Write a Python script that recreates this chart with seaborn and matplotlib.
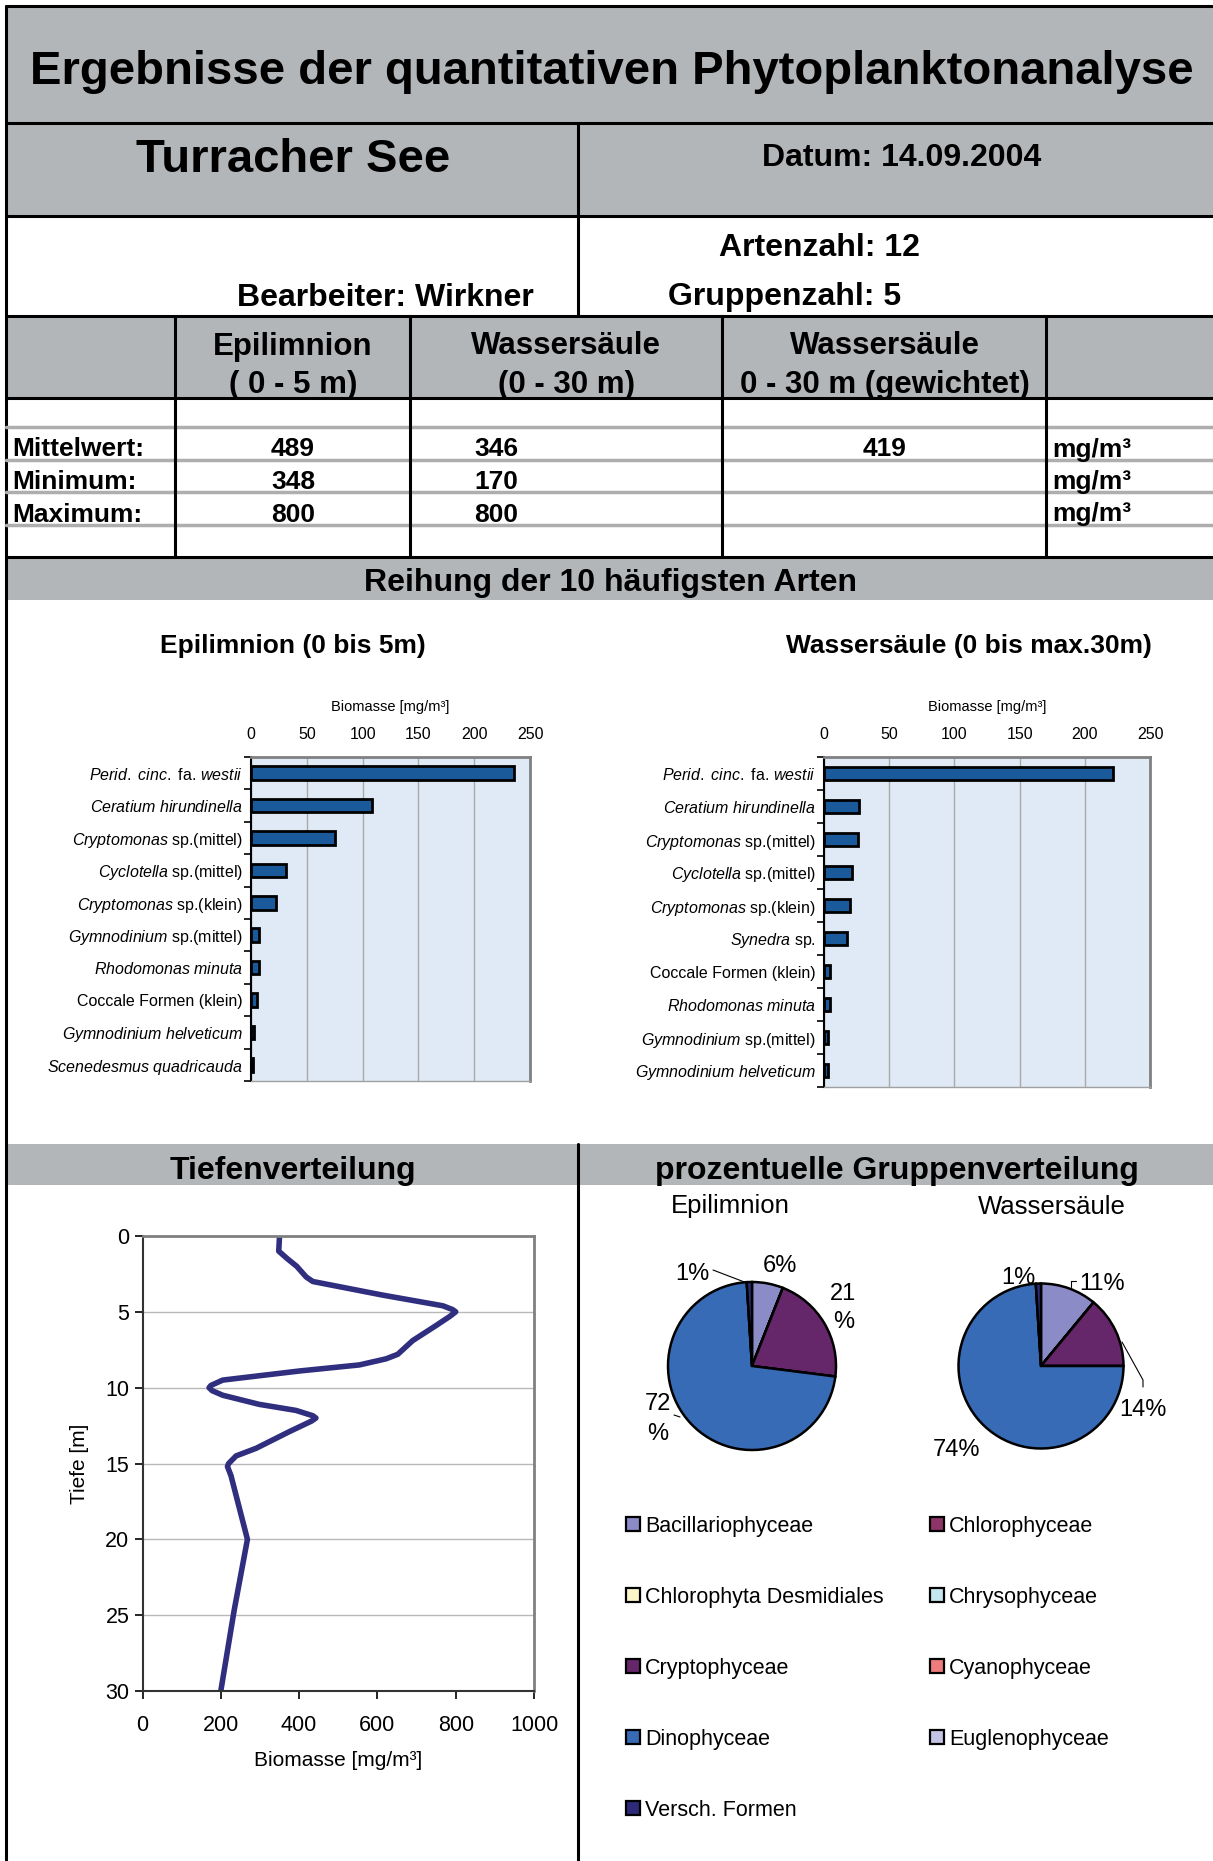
import numpy as np
import seaborn as sns
import matplotlib.pyplot as plt
from matplotlib.patches import Rectangle

W, H = 1213, 1861

# Kopfdaten
titel = "Ergebnisse der quantitativen Phytoplanktonanalyse"
see = "Turracher See"
datum = "Datum: 14.09.2004"
bearbeiter = "Bearbeiter: Wirkner"
artenzahl = "Artenzahl: 12"
gruppenzahl = "Gruppenzahl: 5"

# Tabelle Biomasse
spalten = ["Epilimnion\n( 0 - 5 m)", "Wassersäule\n(0 - 30 m)", "Wassersäule\n0 - 30 m (gewichtet)"]
zeilen = ["Mittelwert:", "Minimum:", "Maximum:"]
epi_werte = ["489", "348", "800"]
ws_werte = ["346", "170", "800"]
ws_gew_werte = ["419", "", ""]

# Reihung der 10 häufigsten Arten
epi_arten = [
    r"$\mathit{Perid.}$ $\mathit{cinc.}$ fa. $\mathit{westii}$",
    r"$\mathit{Ceratium}$ $\mathit{hirundinella}$",
    r"$\mathit{Cryptomonas}$ sp.(mittel)",
    r"$\mathit{Cyclotella}$ sp.(mittel)",
    r"$\mathit{Cryptomonas}$ sp.(klein)",
    r"$\mathit{Gymnodinium}$ sp.(mittel)",
    r"$\mathit{Rhodomonas}$ $\mathit{minuta}$",
    "Coccale Formen (klein)",
    r"$\mathit{Gymnodinium}$ $\mathit{helveticum}$",
    r"$\mathit{Scenedesmus}$ $\mathit{quadricauda}$",
]
epi_biomasse = [236, 108, 75, 31, 22, 7.5, 7, 5.5, 2.5, 2]

ws_arten = [
    r"$\mathit{Perid.}$ $\mathit{cinc.}$ fa. $\mathit{westii}$",
    r"$\mathit{Ceratium}$ $\mathit{hirundinella}$",
    r"$\mathit{Cryptomonas}$ sp.(mittel)",
    r"$\mathit{Cyclotella}$ sp.(mittel)",
    r"$\mathit{Cryptomonas}$ sp.(klein)",
    r"$\mathit{Synedra}$ sp.",
    "Coccale Formen (klein)",
    r"$\mathit{Rhodomonas}$ $\mathit{minuta}$",
    r"$\mathit{Gymnodinium}$ sp.(mittel)",
    r"$\mathit{Gymnodinium}$ $\mathit{helveticum}$",
]
ws_biomasse = [222, 27, 26.2, 21.5, 20, 17.7, 4.9, 4.6, 2.7, 3]

# Tiefenverteilung
tiefe = [0, 1, 1.5, 2, 2.7, 3, 3.9, 4.6, 4.85, 5, 5.3, 5.9, 6.9, 7.8, 8.1, 8.5, 8.9, 9.5, 9.85, 10,
         10.2, 10.5, 11.1, 11.5, 11.85, 12.0, 12.2, 12.9, 14.0, 14.5, 15.0, 15.2, 15.8, 20, 24.7, 30]
biomasse = [350, 348, 370, 394, 418, 435, 614, 767, 792, 800, 785, 750, 690, 652, 622, 554, 401, 205, 175, 170,
            178, 205, 298, 392, 435, 443, 432, 375, 290, 239, 220, 217, 226, 268, 234, 200]

# prozentuelle Gruppenverteilung
gruppen = ["Bacillariophyceae", "Chlorophyceae", "Chlorophyta Desmidiales", "Chrysophyceae",
           "Cryptophyceae", "Cyanophyceae", "Dinophyceae", "Euglenophyceae", "Versch. Formen"]
gruppen_farben = ["#8b8bc7", "#8f3468", "#fbf7c8", "#c4e8ee", "#66266a",
                  "#ef7c7c", "#386bb5", "#c3c3e3", "#2d2b78"]
epi_anteil = [6, 0, 0, 0, 21, 0, 72, 0, 1]
ws_anteil = [11, 0, 0, 0, 14, 0, 74, 0, 1]

sns.set_theme(style="white")
plt.rcParams["font.family"] = ["Liberation Sans", "DejaVu Sans"]
plt.rcParams["mathtext.fontset"] = "custom"
plt.rcParams["mathtext.rm"] = "Liberation Sans"
plt.rcParams["mathtext.it"] = "Liberation Sans:italic"
for k in ["text.color", "axes.labelcolor", "xtick.color", "ytick.color"]:
    plt.rcParams[k] = "black"

GRAU = "#b3b6b9"


def px(l, t, r, b):
    return [l / W, 1 - b / H, (r - l) / W, (b - t) / H]


fig = plt.figure(figsize=(W / 100, H / 100), dpi=100, facecolor="white")
bg = fig.add_axes([0, 0, 1, 1])
bg.set_xlim(0, W)
bg.set_ylim(H, 0)
bg.axis("off")


def txt(x, y, s, size, ha="center", bold=True):
    bg.text(x, y + 3.5, s, ha=ha, va="center", fontsize=size,
            fontweight="bold" if bold else "normal", color="black")


# graue Bänder
for top, bottom in [(6, 123), (123, 216), (316, 398), (557, 600), (1144, 1185)]:
    bg.add_patch(Rectangle((6, top), W - 6, bottom - top, facecolor=GRAU, edgecolor="none"))

# Rahmenlinien
lw = 2.2
bg.plot([6, W], [6, 6], color="black", lw=lw)
bg.plot([6, 6], [6, H], color="black", lw=lw)
for y in [123, 216, 316, 398, 557]:
    bg.plot([6, W], [y, y], color="black", lw=lw)
bg.plot([578, 578], [123, 316], color="black", lw=lw)
bg.plot([578, 578], [1144, H], color="black", lw=lw)
for y in [427, 460, 492, 525]:
    bg.plot([6, W], [y, y], color="#aeaeae", lw=2.5)
for x in [174.5, 409.5, 721.7, 1045.8]:
    bg.plot([x, x], [316, 557], color="black", lw=lw)

# Kopftexte
txt(612, 69, titel, 34)
txt(293, 156, see, 34)
txt(902, 154, datum, 23)
txt(534, 294, bearbeiter, 23, ha="right")
txt(819, 244, artenzahl, 23)
txt(785, 294, gruppenzahl, 23)

for xc, s in zip([293, 566, 885], spalten):
    l1, l2 = s.split("\n")
    txt(xc, 343, l1, 22.5)
    txt(xc, 382, l2, 22.5)

for i, z in enumerate(zeilen):
    y = 446 + i * 32.5
    txt(12, y, z, 19, ha="left")
    txt(293, y, epi_werte[i], 19)
    txt(496, y, ws_werte[i], 19)
    txt(885, y, ws_gew_werte[i], 19)
    txt(1052, y, "mg/m³", 19, ha="left")

txt(611, 580, "Reihung der 10 häufigsten Arten", 23)
txt(293, 643, "Epilimnion (0 bis 5m)", 19)
txt(969, 643, "Wassersäule (0 bis max.30m)", 19)
txt(293, 1168, "Tiefenverteilung", 23)
txt(897, 1168, "prozentuelle Gruppenverteilung", 23)


def bar_panel(rect, arten, werte):
    ax = fig.add_axes(px(*rect))
    sns.barplot(x=werte, y=arten, orient="h", color="#1b5a9a", saturation=1,
                edgecolor="black", linewidth=2, width=0.42, ax=ax)
    ax.set_facecolor("#dfeaf6")
    ax.set_xlim(0, 250)
    ax.set_xticks(range(0, 251, 50))
    ax.set_ylim(len(arten) - 0.5, -0.5)
    ax.xaxis.tick_top()
    ax.xaxis.set_label_position("top")
    ax.set_xlabel("Biomasse [mg/m³]", fontsize=10.5, labelpad=11)
    ax.set_ylabel("")
    ax.grid(axis="x", color="#a9a9a9", lw=1)
    ax.set_axisbelow(True)
    ax.tick_params(axis="x", labelsize=11.5, length=0, pad=11)
    ax.tick_params(axis="y", labelsize=11.5, length=0, pad=6)
    ax.set_yticks(np.arange(-0.5, len(arten)), minor=True)
    ax.tick_params(axis="y", which="minor", length=5, color="black", width=1.2, left=True)
    for s in ["top", "right"]:
        ax.spines[s].set_color("#808080")
        ax.spines[s].set_linewidth(2)
    ax.spines["bottom"].set_color("#a0a0a0")
    ax.spines["bottom"].set_linewidth(1)
    ax.spines["left"].set_color("black")
    ax.spines["left"].set_linewidth(1.5)
    return ax


bar_panel((251, 757, 530, 1081), epi_arten, epi_biomasse)
bar_panel((824, 757, 1150, 1087), ws_arten, ws_biomasse)

# Tiefenprofil
ax = fig.add_axes(px(142.5, 1236, 534, 1691))
sns.lineplot(x=biomasse, y=tiefe, sort=False, estimator=None, color="#302e7e", lw=4, ax=ax)
ax.set_xlim(0, 1000)
ax.set_ylim(30, 0)
ax.set_xticks(range(0, 1001, 200))
ax.set_yticks(range(0, 31, 5))
ax.grid(axis="y", color="#b8b8b8", lw=1)
ax.set_axisbelow(True)
ax.tick_params(labelsize=15.5, length=6, width=1.2, color="black", bottom=True, left=True)
ax.tick_params(axis="x", pad=11)
ax.set_xlabel("Biomasse [mg/m³]", fontsize=15, labelpad=11)
ax.set_ylabel("Tiefe [m]", fontsize=15, labelpad=12)
for s in ["top", "right"]:
    ax.spines[s].set_color("#808080")
    ax.spines[s].set_linewidth(2)
for s in ["left", "bottom"]:
    ax.spines[s].set_color("#333333")
    ax.spines[s].set_linewidth(1.5)


def pie_panel(cx, cy, r, anteile):
    pad = 4
    ax = fig.add_axes(px(cx - r - pad, cy - r - pad, cx + r + pad, cy + r + pad))
    ax.pie(anteile, colors=gruppen_farben, startangle=90, counterclock=False, radius=1,
           wedgeprops=dict(edgecolor="black", linewidth=1.8))
    lim = (r + pad) / r
    ax.set_xlim(-lim, lim)
    ax.set_ylim(-lim, lim)
    ax.set_aspect("equal")
    ax.axis("off")


pie_panel(752, 1366, 84, epi_anteil)
pie_panel(1041, 1366, 82.5, ws_anteil)

txt(730, 1203, "Epilimnion", 18.5, bold=False)
txt(1052, 1203, "Wassersäule", 18.5, bold=False)

pie_fs = 17
txt(692, 1271, f"{epi_anteil[8]}%", pie_fs, bold=False)
txt(780, 1263, f"{epi_anteil[0]}%", pie_fs, bold=False)
txt(843, 1291, f"{epi_anteil[4]}", pie_fs, bold=False)
txt(844, 1319, "%", pie_fs, bold=False)
txt(658, 1401, f"{epi_anteil[6]}", pie_fs, bold=False)
txt(658, 1430, "%", pie_fs, bold=False)
bg.plot([713, 747], [1270, 1283], color="black", lw=0.8)
bg.plot([674, 680], [1415, 1417], color="black", lw=0.8)

txt(1018, 1275, f"{ws_anteil[8]}%", pie_fs, bold=False)
txt(1102, 1280, f"{ws_anteil[0]}%", pie_fs, bold=False)
txt(1143, 1406, f"{ws_anteil[4]}%", pie_fs, bold=False)
txt(956, 1446, f"{ws_anteil[6]}%", pie_fs, bold=False)
bg.plot([1071, 1071, 1076], [1287, 1281, 1281], color="black", lw=0.8)
bg.plot([1122, 1143, 1143], [1342, 1380, 1387], color="black", lw=0.8)

# Legende
for i, (name, farbe) in enumerate(zip(gruppen, gruppen_farben)):
    x = [633, 937][i % 2]
    y = 1524 + 71 * (i // 2)
    bg.add_patch(Rectangle((x - 7, y - 7), 14, 14, facecolor=farbe, edgecolor="black", lw=1.6))
    txt(x + 12, y - 1, name, 15.5, ha="left", bold=False)

fig.savefig("out.png", dpi=100, facecolor="white")
